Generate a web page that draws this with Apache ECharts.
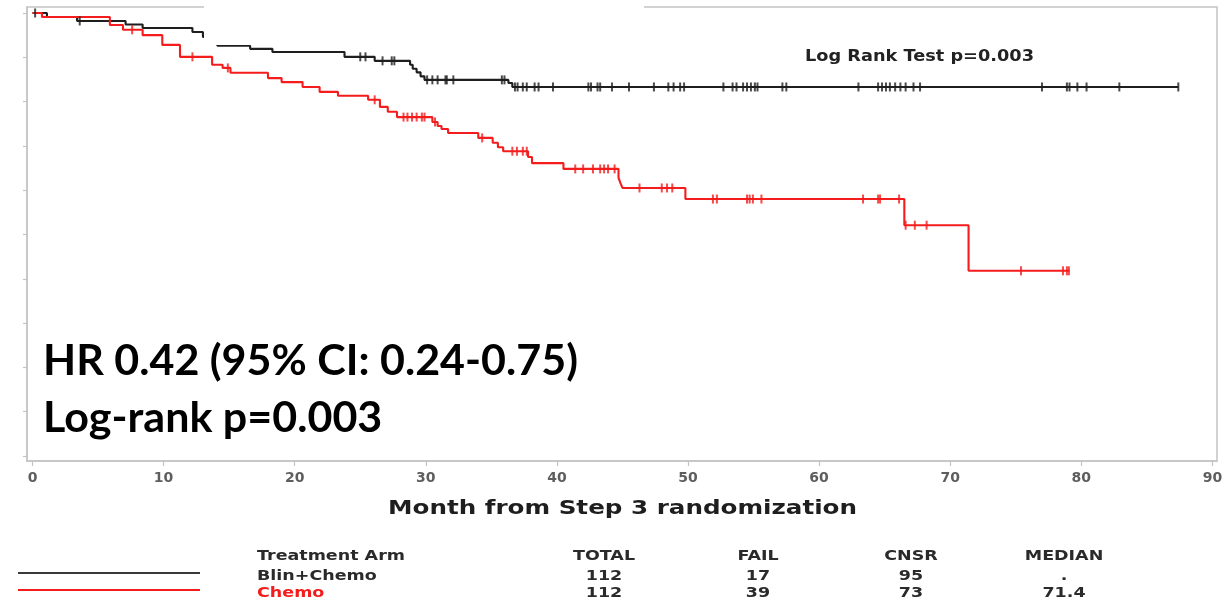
<!DOCTYPE html>
<html>
<head>
<meta charset="utf-8">
<script src="https://cdn.jsdelivr.net/npm/echarts@6/dist/echarts.min.js"></script>
<style>
  html, body { margin: 0; padding: 0; background: #fff; }
  #chart { width: 1231px; height: 601px; }
</style>
</head>
<body>
<div id="chart"></div>
<script>
// Kaplan–Meier steps: [month, survival after the event]
const blinChemoSteps = [
  [0, 1.0], [1.1, 0.991], [3.4, 0.982], [7.1, 0.974], [8.4, 0.966], [12.2, 0.957],
  [13.0, 0.946], [14.1, 0.926], [16.6, 0.919], [18.3, 0.912], [23.8, 0.901], [26.1, 0.892],
  [28.8, 0.883], [29.0, 0.874], [29.3, 0.866], [29.6, 0.857], [29.9, 0.849],
  [36.3, 0.842], [36.6, 0.833], [87.4, 0.833]
];
const chemoSteps = [
  [0, 1.0], [0.72, 0.991], [5.9, 0.973], [6.9, 0.962], [8.4, 0.950], [9.9, 0.928],
  [11.25, 0.901], [13.7, 0.883], [14.5, 0.876], [15.1, 0.865], [17.96, 0.853], [19.0, 0.844],
  [20.6, 0.833], [21.9, 0.822], [23.3, 0.813], [25.6, 0.804], [26.5, 0.788], [27.1, 0.777],
  [27.8, 0.765], [30.5, 0.754], [30.9, 0.745], [31.2, 0.738], [31.7, 0.729], [34.0, 0.718],
  [35.1, 0.707], [35.5, 0.697], [35.9, 0.688], [37.8, 0.675], [38.1, 0.661], [40.5, 0.648],
  [44.7, 0.628], [44.85, 0.616], [45.0, 0.605], [49.8, 0.580], [66.5, 0.521], [71.4, 0.418],
  [79.1, 0.418]
];

// Censoring times (months)
const blinChemoCensored = [
  0.2, 3.6, 25.0, 25.4, 26.7, 27.4, 27.6, 30.1, 30.5, 30.9, 31.5, 31.6, 32.1, 35.8, 36.0,
  36.8, 37.0, 37.4, 37.7, 38.3, 38.6, 39.7, 42.4, 42.6, 43.1, 43.3, 44.2, 45.5, 47.4, 48.5,
  48.9, 49.4, 49.7, 52.7, 53.4, 53.7, 54.2, 54.5, 54.8, 55.1, 55.3, 57.2, 57.5, 63.0, 64.5,
  64.8, 65.1, 65.4, 65.8, 66.2, 66.6, 67.2, 67.7, 77.0, 78.9, 79.1, 79.7, 80.4, 82.9, 87.4
];
const chemoCensored = [
  7.6, 12.2, 14.9, 26.1, 28.3, 28.6, 28.95, 29.3, 29.7, 29.9, 30.7, 34.3, 36.6, 36.95, 37.4,
  37.7, 41.4, 42.0, 42.75, 43.3, 43.6, 43.9, 44.4, 46.3, 48.0, 48.4, 48.8, 51.9, 52.2, 54.5,
  54.7, 54.95, 55.6, 63.35, 64.5, 64.65, 66.1, 66.6, 67.3, 68.2, 75.4, 78.6, 78.9, 79.05
];

const xTicks = [0, 10, 20, 30, 40, 50, 60, 70, 80, 90];
const yTicks = [0, 0.1, 0.2, 0.3, 0.4, 0.5, 0.6, 0.7, 0.8, 0.9, 1.0];

const xTitle = 'Month from Step 3 randomization';
const testLabel = 'Log Rank Test p=0.003';
const hrLines = ['HR 0.42 (95% CI: 0.24-0.75)', 'Log-rank p=0.003'];

// Summary table
const tableHeaders = ['Treatment Arm', 'TOTAL', 'FAIL', 'CNSR', 'MEDIAN'];
const arms = ['Blin+Chemo', 'Chemo'];
const totals = ['112', '112'];
const fails = ['17', '39'];
const censoredCounts = ['95', '73'];
const medians = ['.', '71.4'];

const BLACK = '#1e1e1e';
const RED = '#f41c1c';
const AXIS = '#c4c4c4';
const SAS_FONT = 'DejaVu Sans';

function survivalAt(steps, t) {
  let s = steps[0][1];
  for (const [m, v] of steps) { if (m <= t) s = v; else break; }
  return s;
}

const measureCtx = document.createElement('canvas').getContext('2d');
function textWidth(text, font) { measureCtx.font = font; return measureCtx.measureText(text).width; }
function fitScale(text, font, width) { return width / textWidth(text, font); }

const chart = echarts.init(document.getElementById('chart'), null, { renderer: 'canvas' });

const hrFont = 'bold 42px Lato';
const hrScale = fitScale(hrLines[0], hrFont, 535);
const testFont = 'bold 16.5px "' + SAS_FONT + '"';
const testScale = fitScale(testLabel, testFont, 229);
const titleFont = 'bold 19.5px "' + SAS_FONT + '"';
const titleScale = fitScale(xTitle, titleFont, 469);
const tableFont = 'bold 13.5px "' + SAS_FONT + '"';
const tableScale = fitScale(tableHeaders[0], tableFont, 148);

function label(text, x, y, font, scale, color, align) {
  return {
    type: 'text', x: x, y: y, scaleX: scale, z: 50, silent: true,
    style: { x: 0, y: 0, text: text, font: font, fill: color, align: align || 'left', verticalAlign: 'middle' }
  };
}

const columnCenters = [null, 604, 758, 911, 1064];
const headerY = 556.5, rowY = [576.5, 593];
const tableElems = [];
tableElems.push(label(tableHeaders[0], 257, headerY, tableFont, tableScale, '#2a2a2a'));
for (let c = 1; c < tableHeaders.length; c++) {
  tableElems.push(label(tableHeaders[c], columnCenters[c], headerY, tableFont, tableScale, '#2a2a2a', 'center'));
}
const columns = [null, totals, fails, censoredCounts, medians];
arms.forEach((arm, r) => {
  const color = r === 0 ? '#2a2a2a' : RED;
  tableElems.push(label(arm, 257, rowY[r], tableFont, tableScale, color));
  for (let c = 1; c < columns.length; c++) {
    tableElems.push(label(columns[c][r], columnCenters[c], rowY[r], tableFont, tableScale, '#2a2a2a', 'center'));
  }
});

const option = {
  animation: false,
  backgroundColor: '#fff',
  grid: {
    left: 27, right: 14, top: 7, bottom: 140,
    containLabel: false, outerBoundsMode: 'none',
    show: true, borderColor: AXIS, borderWidth: 1.5, backgroundColor: 'transparent'
  },
  xAxis: {
    type: 'value', min: -0.42, max: 90.35,
    axisLine: { show: true, onZero: false, lineStyle: { color: AXIS, width: 1.5 } },
    axisTick: { show: true, customValues: xTicks, length: 5, lineStyle: { color: AXIS, width: 1.2 } },
    axisLabel: {
      customValues: xTicks, color: '#5e5e5e', fontWeight: 'bold', fontSize: 14,
      fontFamily: SAS_FONT, margin: 10
    },
    splitLine: { show: false }
  },
  yAxis: {
    type: 'value', min: -0.0113, max: 1.0135,
    axisLine: { show: true, onZero: false, lineStyle: { color: AXIS, width: 1.5 } },
    axisTick: { show: true, customValues: yTicks, length: 4, lineStyle: { color: AXIS, width: 1.2 } },
    axisLabel: { show: false },
    splitLine: { show: false }
  },
  series: [
    {
      name: 'Blin+Chemo', type: 'line', step: 'end', data: blinChemoSteps,
      showSymbol: false, silent: true, z: 3,
      lineStyle: { color: BLACK, width: 2.1 }
    },
    {
      name: 'Blin+Chemo censored', type: 'scatter', silent: true, z: 4,
      data: blinChemoCensored.map(t => [t, survivalAt(blinChemoSteps, t)]),
      symbol: 'rect', symbolSize: [2, 9], itemStyle: { color: BLACK }
    },
    {
      name: 'Chemo', type: 'line', step: 'end', data: chemoSteps,
      showSymbol: false, silent: true, z: 3,
      lineStyle: { color: RED, width: 2.1 }
    },
    {
      name: 'Chemo censored', type: 'scatter', silent: true, z: 4,
      data: chemoCensored.map(t => [t, survivalAt(chemoSteps, t)]),
      symbol: 'rect', symbolSize: [2, 9], itemStyle: { color: RED }
    }
  ],
  graphic: [
    // blank band across the top edge of the frame
    { type: 'rect', z: 100, silent: true, shape: { x: 204, y: 0, width: 440, height: 45 }, style: { fill: '#fff' } },
    label(testLabel, 805, 56.5, testFont, testScale, '#222'),
    label(hrLines[0], 43, 361, hrFont, hrScale, '#000'),
    label(hrLines[1], 43, 418, hrFont, hrScale, '#000'),
    label(xTitle, 388, 508.5, titleFont, titleScale, '#1e1e1e'),
    { type: 'line', silent: true, shape: { x1: 18, y1: 573, x2: 200, y2: 573 }, style: { stroke: '#3a3a3a', lineWidth: 2 } },
    { type: 'line', silent: true, shape: { x1: 18, y1: 590, x2: 200, y2: 590 }, style: { stroke: RED, lineWidth: 2 } }
  ].concat(tableElems)
};

chart.setOption(option);
</script>
</body>
</html>
